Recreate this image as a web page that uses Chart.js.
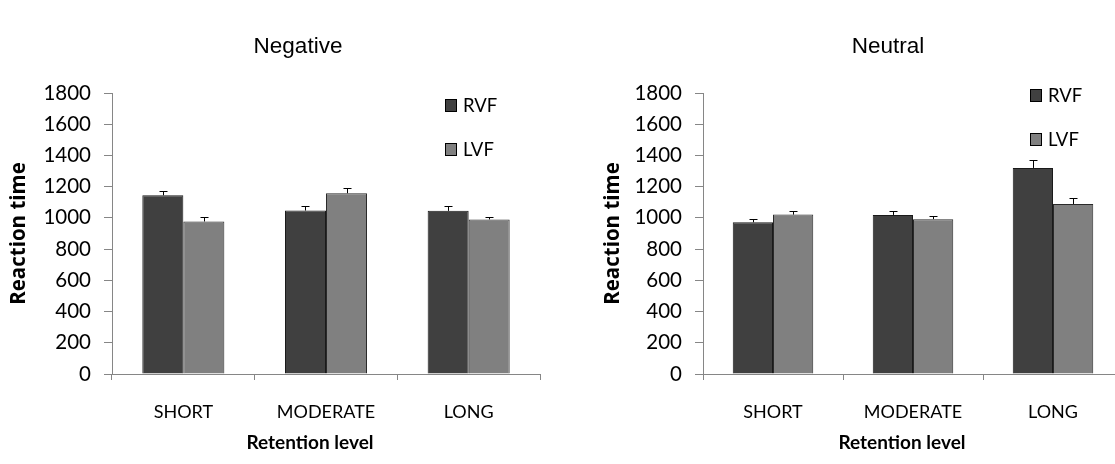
<!DOCTYPE html>
<html>
<head>
<meta charset="utf-8">
<script src="https://cdn.jsdelivr.net/npm/chart.js@4.4.1/dist/chart.umd.min.js"></script>
<style>
  html, body { margin: 0; padding: 0; background: #ffffff; overflow: hidden; width: 1115px; height: 464px; }
  #wrap { position: relative; width: 1115px; height: 464px; overflow: hidden; }
  canvas { position: absolute; top: 0; }
  #cNeg { left: 0px; }
  #cNeu { left: 580px; }
</style>
</head>
<body>
<div id="wrap">
  <canvas id="cNeg" width="600" height="464"></canvas>
  <canvas id="cNeu" width="616" height="464"></canvas>
</div>
<script>
// ---- data ----
const categories = ["SHORT", "MODERATE", "LONG"];
const seriesNames = ["RVF", "LVF"];
const yTicks = [0, 200, 400, 600, 800, 1000, 1200, 1400, 1600, 1800];

const negativeRVF = [1145, 1047, 1045];
const negativeLVF = [977, 1158, 990];
const negativeRVFErr = [27, 28, 30];
const negativeLVFErr = [30, 35, 18];

const neutralRVF = [972, 1019, 1320];
const neutralLVF = [1021, 992, 1089];
const neutralRVFErr = [20, 22, 49];
const neutralLVFErr = [26, 17, 36];

const panelTitles = ["Negative", "Neutral"];
const yTitle = "Reaction time";
const xTitle = "Retention level";

// ---- styles ----
const RVF_COLOR = "#404040";
const LVF_COLOR = "#808080";
const AXIS_COLOR = "#868686";
const TEXT_FONT = "Lato, 'Open Sans', sans-serif";

const errorBarPlugin = {
  id: "errorBars",
  afterDatasetsDraw(chart) {
    const ctx = chart.ctx;
    const yScale = chart.scales.y;
    ctx.save();
    ctx.strokeStyle = "#000000";
    ctx.lineWidth = 1;
    chart.data.datasets.forEach((ds, di) => {
      const meta = chart.getDatasetMeta(di);
      meta.data.forEach((bar, i) => {
        const v = ds.data[i];
        const e = ds.errors[i];
        const x = Math.round(bar.x) + 0.5;
        const y0 = yScale.getPixelForValue(v);
        const y1 = Math.round(yScale.getPixelForValue(v + e)) + 0.5;
        ctx.beginPath();
        ctx.moveTo(x, y0);
        ctx.lineTo(x, y1);
        ctx.moveTo(x - 4, y1);
        ctx.lineTo(x + 4, y1);
        ctx.stroke();
      });
    });
    ctx.restore();
  }
};

const boxLegendPlugin = {
  id: "boxLegend",
  afterDraw(chart, args, opts) {
    const ctx = chart.ctx;
    const area = chart.chartArea;
    ctx.save();
    ctx.font = "18.5px " + TEXT_FONT;
    ctx.textBaseline = "middle";
    ctx.textAlign = "left";
    chart.data.datasets.forEach((ds, i) => {
      const bx = area.right - opts.dx;
      const by = area.top + opts.dy + i * opts.gap;
      ctx.fillStyle = ds.backgroundColor;
      ctx.fillRect(bx, by, 12, 12);
      ctx.strokeStyle = "#000000";
      ctx.lineWidth = 1;
      ctx.strokeRect(bx + 0.5, by + 0.5, 11, 12);
      ctx.fillStyle = "#000000";
      ctx.fillText(ds.label, bx + 18, by + 7);
    });
    ctx.restore();
  }
};

// panel title and x-axis title, placed like the original figure
const panelTextPlugin = {
  id: "panelText",
  afterDraw(chart, args, opts) {
    const ctx = chart.ctx;
    const area = chart.chartArea;
    ctx.save();
    ctx.fillStyle = "#000000";
    ctx.textAlign = "center";
    ctx.textBaseline = "middle";
    ctx.font = "22.5px 'Liberation Sans', Arial, sans-serif";
    ctx.fillText(opts.title, opts.titleX, 47);
    ctx.font = "bold 19px " + TEXT_FONT;
    ctx.fillText(opts.xTitle, (area.left + area.right) / 2 + opts.xTitleDx, 443);
    ctx.restore();
  }
};

function makeChart(canvasId, title, rvf, lvf, rvfErr, lvfErr, geo) {
  return new Chart(document.getElementById(canvasId), {
    type: "bar",
    data: {
      labels: categories,
      datasets: [
        { label: seriesNames[0], data: rvf, errors: rvfErr, backgroundColor: RVF_COLOR,
          borderColor: "#1a1a1a", borderWidth: 1 },
        { label: seriesNames[1], data: lvf, errors: lvfErr, backgroundColor: LVF_COLOR,
          borderColor: "#2a2a2a", borderWidth: 1 }
      ]
    },
    options: {
      responsive: false,
      animation: false,
      devicePixelRatio: 1,
      layout: { padding: { left: 0, right: geo.padRight, top: 93, bottom: 0 } },
      datasets: { bar: { categoryPercentage: 0.575, barPercentage: 1.0 } },
      plugins: {
        legend: { display: false },
        tooltip: { enabled: false },
        title: { display: false },
        boxLegend: geo.legend,
        panelText: { title: title, titleX: geo.titleX, xTitle: xTitle, xTitleDx: geo.xTitleDx }
      },
      scales: {
        x: {
          grid: { display: true, drawOnChartArea: false, drawTicks: true, tickLength: 6, color: AXIS_COLOR, offset: true },
          border: { display: true, color: AXIS_COLOR, width: 1 },
          ticks: { color: "#000000", font: { family: TEXT_FONT, size: 18 }, padding: 21, maxRotation: 0 },
          afterFit(scale) { scale.height = 90; }
        },
        y: {
          min: 0, max: 1800,
          afterBuildTicks(scale) { scale.ticks = yTicks.map(v => ({ value: v })); },
          grid: { display: true, drawOnChartArea: false, drawTicks: true, tickLength: 8, color: AXIS_COLOR },
          border: { display: true, color: AXIS_COLOR, width: 1 },
          ticks: { color: "#000000", font: { family: TEXT_FONT, size: 20.5 }, padding: 13,
                   callback: (v) => String(v) },
          title: { display: true, text: yTitle, color: "#000000",
                   font: { family: "'Open Sans', Lato, sans-serif", size: 20.5, weight: "bold" },
                   padding: { top: geo.yTitlePad, bottom: 0 } },
          afterFit(scale) { scale.width = geo.yWidth; }
        }
      }
    },
    plugins: [errorBarPlugin, boxLegendPlugin, panelTextPlugin]
  });
}

makeChart("cNeg", panelTitles[0], negativeRVF, negativeLVF, negativeRVFErr, negativeLVFErr,
  { padRight: 60, yWidth: 112, yTitlePad: 7, titleX: 298, xTitleDx: -16,
    legend: { dx: 95, dy: 6, gap: 44 } });
makeChart("cNeu", panelTitles[1], neutralRVF, neutralLVF, neutralRVFErr, neutralLVFErr,
  { padRight: 73, yWidth: 123, yTitlePad: 21, titleX: 308, xTitleDx: -11,
    legend: { dx: 93, dy: -4, gap: 44 } });
</script>
</body>
</html>
